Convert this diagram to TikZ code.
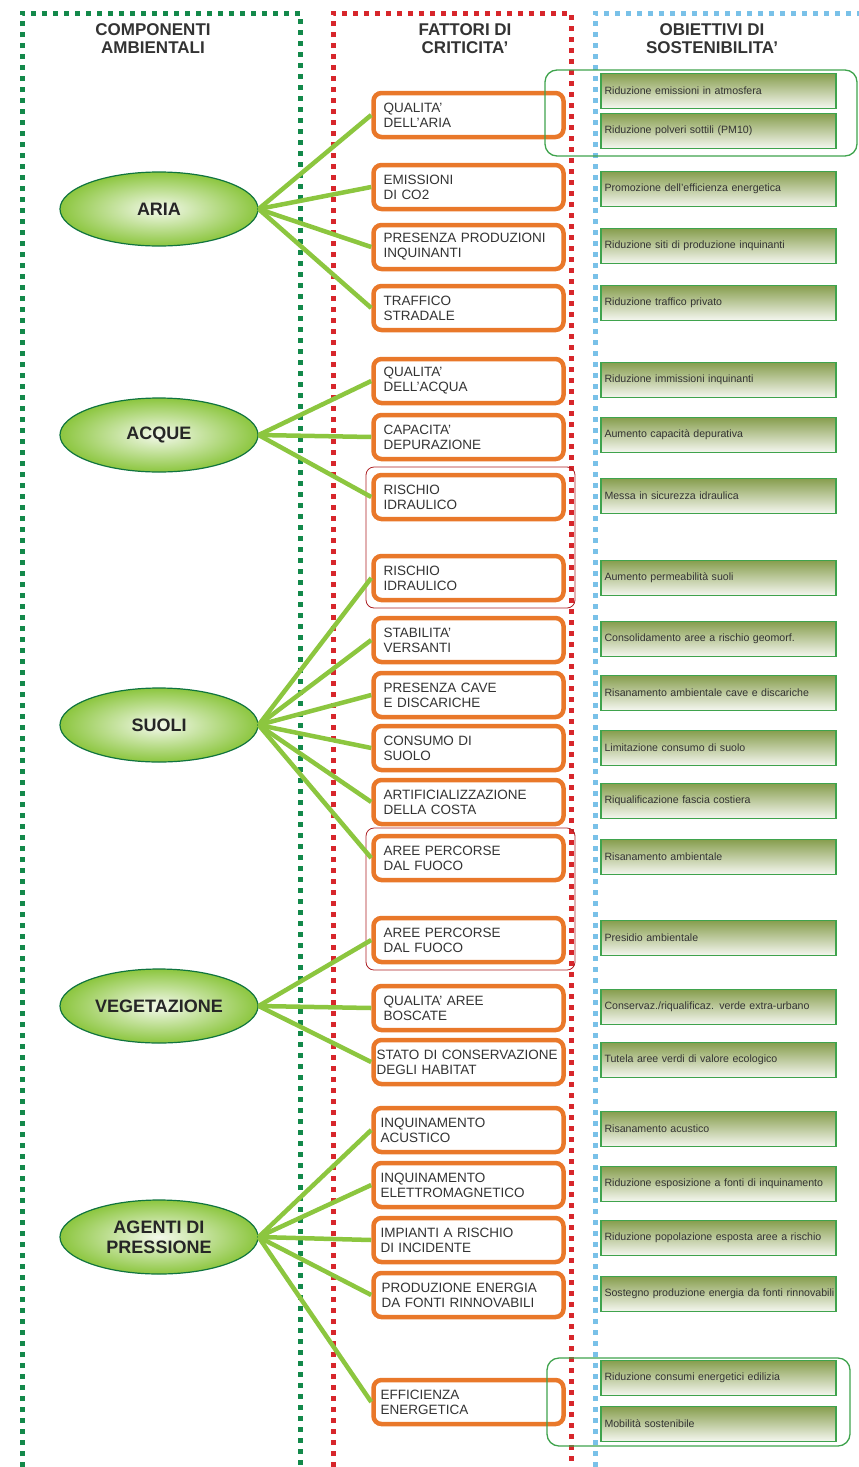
\documentclass[tikz,border=0pt]{standalone}
\usepackage{fontspec}
\setmainfont{Liberation Sans}
\usetikzlibrary{shapes.geometric}
\definecolor{dotgreen}{HTML}{13894A}
\definecolor{dotred}{HTML}{D7262B}
\definecolor{dotblue}{HTML}{79C1E8}
\definecolor{limeline}{HTML}{8CC63F}
\definecolor{boxorange}{HTML}{E9782A}
\definecolor{objgreen}{HTML}{3FA34D}
\definecolor{objolive}{HTML}{879E4E}
\definecolor{textgray}{HTML}{333333}
\begin{document}
\begin{tikzpicture}[x=1pt, y=-1pt,
  dots/.style={line width=5pt, dash pattern=on 5pt off 6pt},
  head/.style={font=\fontsize{17}{18}\selectfont\bfseries, align=center, text=textgray},
  comp/.style={ellipse, draw=dotgreen!85!black, line width=1.2pt, inner color=white!90!limeline, outer color=limeline,
    minimum width=198pt, minimum height=74pt, inner sep=0pt, align=center,
    font=\fontsize{18}{20}\selectfont\bfseries, text=black!85},
  fatt/.style={draw=boxorange, fill=white, rounded corners=8pt, line width=4.5pt, minimum height=44pt,
    text width=170pt, inner xsep=10pt, align=left, font=\fontsize{13.5}{15}\selectfont, text=textgray},
  obj/.style={draw=objgreen, line width=1.3pt, top color=objolive, bottom color=white!92!objolive,
    minimum width=235pt, minimum height=35pt, text width=228pt, inner xsep=3.5pt, align=left,
    font=\fontsize{10.6}{12}\selectfont, text=textgray},
  link/.style={limeline, line width=4.5pt},
  grpgreen/.style={draw=objgreen, line width=1.3pt, rounded corners=12pt},
  grpred/.style={draw=dotred!80!black, line width=0.8pt, rounded corners=8pt}]
  \useasboundingbox (0,0) rectangle (859,1467);
  % column frames
  \draw[dots, dotgreen] (22,1467) -- (22,13) -- (300,13) -- (300,1467);
  \draw[dots, dotred] (333,1467) -- (333,13) -- (571,13) -- (571,1467);
  \draw[dots, dotblue] (595,1467) -- (595,13) -- (862,13);
  \node[head] (h-comp) at (153,39) {COMPONENTI\\AMBIENTALI};
  \node[head] (h-fatt) at (465,39) {FATTORI DI\\CRITICITA'};
  \node[head] (h-obj) at (712,39) {OBIETTIVI DI\\SOSTENIBILITA'};

  % componenti ambientali
  \node[comp] (aria) at (159,209) {ARIA};
  \node[comp] (acque) at (159,435) {ACQUE};
  \node[comp] (suoli) at (159,725) {SUOLI};
  \node[comp] (veget) at (159,1006) {VEGETAZIONE};
  \node[comp] (agenti) at (159,1237) {AGENTI DI\\PRESSIONE};

  % fattori di criticita'
  \node[fatt] (f1) at (468.5,115) {QUALITA'\\DELL'ARIA};
  \node[fatt] (f2) at (468.5,187) {EMISSIONI\\DI CO2};
  \node[fatt] (f3) at (468.5,247) {PRESENZA PRODUZIONI\\INQUINANTI};
  \node[fatt] (f4) at (468.5,308) {TRAFFICO\\STRADALE};
  \node[fatt] (f5) at (468.5,381) {QUALITA'\\DELL'ACQUA};
  \node[fatt] (f6) at (468.5,437) {CAPACITA'\\DEPURAZIONE};
  \node[fatt] (f7) at (468.5,497) {RISCHIO\\IDRAULICO};
  \node[fatt] (f8) at (468.5,578) {RISCHIO\\IDRAULICO};
  \node[fatt] (f9) at (468.5,640) {STABILITA'\\VERSANTI};
  \node[fatt] (f10) at (468.5,695) {PRESENZA CAVE\\E DISCARICHE};
  \node[fatt] (f11) at (468.5,748) {CONSUMO DI\\SUOLO};
  \node[fatt] (f12) at (468.5,802) {ARTIFICIALIZZAZIONE\\DELLA COSTA};
  \node[fatt] (f13) at (468.5,858) {AREE PERCORSE\\DAL FUOCO};
  \node[fatt] (f14) at (468.5,940) {AREE PERCORSE\\DAL FUOCO};
  \node[fatt] (f15) at (468.5,1008) {QUALITA' AREE\\BOSCATE};
  \node[fatt, inner xsep=3pt, text width=184pt] (f16) at (468.5,1062) {STATO DI CONSERVAZIONE\\DEGLI HABITAT};
  \node[fatt, inner xsep=7pt, text width=176pt] (f17) at (468.5,1130) {INQUINAMENTO\\ACUSTICO};
  \node[fatt, inner xsep=7pt, text width=176pt] (f18) at (468.5,1185) {INQUINAMENTO\\ELETTROMAGNETICO};
  \node[fatt, inner xsep=7pt, text width=176pt] (f19) at (468.5,1240) {IMPIANTI A RISCHIO\\DI INCIDENTE};
  \node[fatt, inner xsep=8pt, text width=174pt] (f20) at (468.5,1295) {PRODUZIONE ENERGIA\\DA FONTI RINNOVABILI};
  \node[fatt, inner xsep=7pt, text width=176pt] (f21) at (468.5,1402) {EFFICIENZA\\ENERGETICA};

  % obiettivi di sostenibilita'
  \node[obj] (o1) at (718.5,91) {Riduzione emissioni in atmosfera};
  \node[obj] (o2) at (718.5,131) {Riduzione polveri sottili (PM10)};
  \node[obj] (o3) at (718.5,189) {Promozione dell'efficienza energetica};
  \node[obj] (o4) at (718.5,246) {Riduzione siti di produzione inquinanti};
  \node[obj] (o5) at (718.5,303) {Riduzione traffico privato};
  \node[obj] (o6) at (718.5,380) {Riduzione immissioni inquinanti};
  \node[obj] (o7) at (718.5,435) {Aumento capacità depurativa};
  \node[obj] (o8) at (718.5,496) {Messa in sicurezza idraulica};
  \node[obj] (o9) at (718.5,578) {Aumento permeabilità suoli};
  \node[obj] (o10) at (718.5,639) {Consolidamento aree a rischio geomorf.};
  \node[obj] (o11) at (718.5,693) {Risanamento ambientale cave e discariche};
  \node[obj] (o12) at (718.5,748) {Limitazione consumo di suolo};
  \node[obj] (o13) at (718.5,801) {Riqualificazione fascia costiera};
  \node[obj] (o14) at (718.5,857) {Risanamento ambientale};
  \node[obj] (o15) at (718.5,938) {Presidio ambientale};
  \node[obj] (o16) at (718.5,1007) {Conservaz./riqualificaz. verde extra-urbano};
  \node[obj] (o17) at (718.5,1060) {Tutela aree verdi di valore ecologico};
  \node[obj] (o18) at (718.5,1129) {Risanamento acustico};
  \node[obj] (o19) at (718.5,1184) {\mbox{Riduzione esposizione a fonti di inquinamento}};
  \node[obj] (o20) at (718.5,1238) {\mbox{Riduzione popolazione esposta aree a rischio}};
  \node[obj] (o21) at (718.5,1294) {\mbox{Sostegno produzione energia da fonti rinnovabili}};
  \node[obj] (o22) at (718.5,1378) {Riduzione consumi energetici edilizia};
  \node[obj] (o23) at (718.5,1424) {Mobilità sostenibile};

  % groupings
  \draw[grpgreen] (545,70) rectangle (857,156);
  \draw[grpgreen] (547,1358) rectangle (850,1446);
  \draw[grpred] (366,467) rectangle (575,608);
  \draw[grpred] (366,828) rectangle (575,970);

  % links
  \foreach \f in {f1,f2,f3,f4} \draw[link] (aria.east) -- (\f.west);
  \foreach \f in {f5,f6,f7} \draw[link] (acque.east) -- (\f.west);
  \foreach \f in {f8,f9,f10,f11,f12,f13} \draw[link] (suoli.east) -- (\f.west);
  \foreach \f in {f14,f15,f16} \draw[link] (veget.east) -- (\f.west);
  \foreach \f in {f17,f18,f19,f20,f21} \draw[link] (agenti.east) -- (\f.west);
\end{tikzpicture}
\end{document}
